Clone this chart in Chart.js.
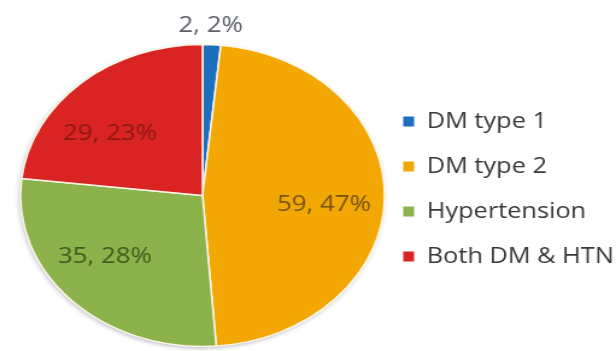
<!DOCTYPE html>
<html>
<head>
<meta charset="utf-8">
<script src="https://cdn.jsdelivr.net/npm/chart.js@4.4.1/dist/chart.umd.min.js"></script>
<style>
  html, body { margin: 0; padding: 0; background: #ffffff; overflow: hidden; }
  #c { display: block; width: 616px; height: 351px; }
</style>
</head>
<body>
<canvas id="c" width="511" height="351" style="width:616px;height:351px"></canvas>
<script>
// ---- data ----
const categories = ['DM type 1', 'DM type 2', 'Hypertension', 'Both DM & HTN'];
const counts = [2, 59, 35, 29];
const percents = [2, 47, 28, 23];

// ---- styles ----
const sliceColors = ['#1d6fbe', '#f2a705', '#8cb24b', '#da2323'];
const labelColors = ['#5c6068', '#765410', '#3d5c20', '#8a1a14'];
// label placement relative to pie centre, in units of the pie radius
const labelPlacement = [[0.045, -1.122], [0.667, 0.063], [-0.536, 0.407], [-0.508, -0.407]];
const FONT = '"Open Sans", "DejaVu Sans", sans-serif';

const shadowPlugin = {
  id: 'pieShadow',
  beforeDatasetsDraw(chart) {
    const arc = chart.getDatasetMeta(0).data[0];
    if (!arc) return;
    const ctx = chart.ctx;
    ctx.save();
    ctx.shadowColor = 'rgba(60,70,90,0.35)';
    ctx.shadowBlur = 4;
    ctx.shadowOffsetX = -1;
    ctx.shadowOffsetY = 2;
    ctx.fillStyle = '#ffffff';
    ctx.beginPath();
    ctx.arc(arc.x, arc.y, arc.outerRadius, 0, Math.PI * 2);
    ctx.fill();
    ctx.restore();
  }
};

const labelPlugin = {
  id: 'sliceLabels',
  afterDatasetsDraw(chart) {
    const ctx = chart.ctx;
    const meta = chart.getDatasetMeta(0);
    ctx.save();
    ctx.font = '21.5px ' + FONT;
    ctx.textAlign = 'center';
    ctx.textBaseline = 'middle';
    meta.data.forEach((arc, i) => {
      const r = arc.outerRadius;
      const [fx, fy] = labelPlacement[i];
      ctx.fillStyle = labelColors[i];
      ctx.fillText(counts[i] + ', ' + percents[i] + '%', arc.x + fx * r, arc.y + fy * r);
    });
    ctx.restore();
  }
};

const legendPlugin = {
  id: 'sideLegend',
  afterDraw(chart) {
    const ctx = chart.ctx;
    const boxX = 334.5, textX = 354;
    const y0 = 121.5, step = 45;
    ctx.save();
    ctx.font = '21px ' + FONT;
    ctx.textAlign = 'left';
    ctx.textBaseline = 'middle';
    categories.forEach((name, i) => {
      const y = y0 + i * step;
      ctx.fillStyle = sliceColors[i];
      ctx.fillRect(boxX, y - 5, 9, 10);
      ctx.fillStyle = '#383838';
      ctx.fillText(name, textX, y + 1);
    });
    ctx.restore();
  }
};

new Chart(document.getElementById('c'), {
  type: 'pie',
  data: {
    labels: categories,
    datasets: [{
      data: counts,
      backgroundColor: sliceColors,
      borderColor: '#fdf6e6',
      borderWidth: 1.5,
      radius: 151
    }]
  },
  options: {
    responsive: false,
    animation: false,
    devicePixelRatio: 1,
    layout: { padding: { left: 0, right: 175, top: 40, bottom: 0 } },
    plugins: {
      legend: { display: false },
      tooltip: { enabled: false },
      title: { display: false }
    }
  },
  plugins: [shadowPlugin, labelPlugin, legendPlugin]
});
</script>
</body>
</html>
